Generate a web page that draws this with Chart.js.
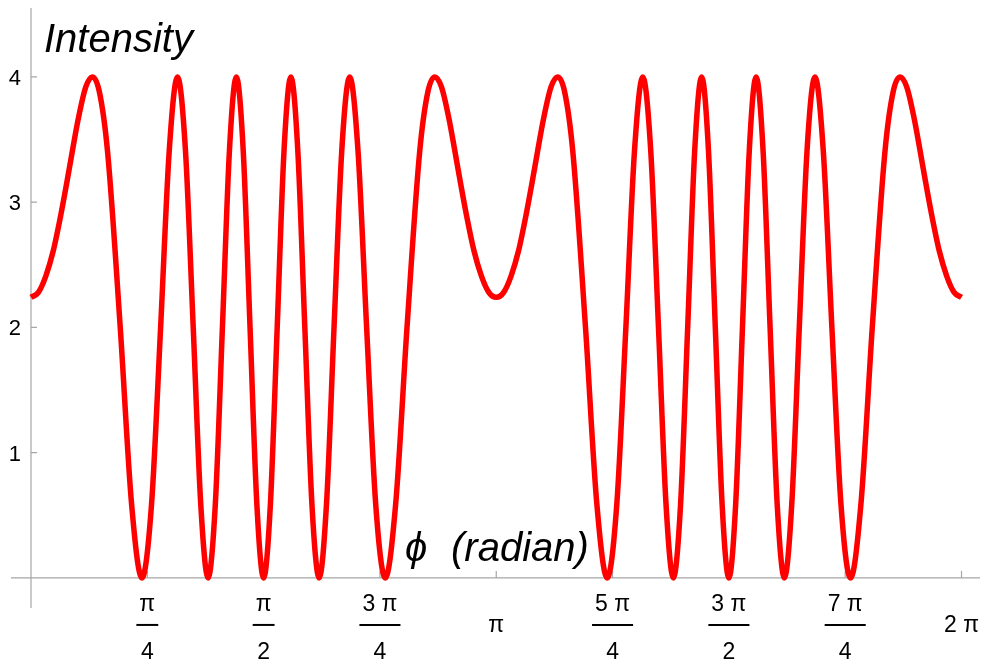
<!DOCTYPE html>
<html>
<head>
<meta charset="utf-8">
<script src="https://cdn.jsdelivr.net/npm/chart.js@4/dist/chart.umd.min.js"></script>
<style>
  html, body { margin: 0; padding: 0; background: #ffffff; }
  canvas { display: block; }
</style>
</head>
<body>
<canvas id="c" width="985" height="663"></canvas>
<script>
// phase angle (radian)
const phi = [
  0,      0.05,   0.1,    0.15,   0.2,    0.25,   0.2797, 0.32,   0.37,   0.4143,
  0.46,   0.5164, 0.6026, 0.6792, 0.7491, 0.8141, 0.8753, 0.9335, 0.9894, 1.0432,
  1.0954, 1.1462, 1.1959, 1.2447, 1.2926, 1.3399, 1.3867, 1.4331, 1.4791, 1.5250,
  1.5708, 1.6166, 1.6625, 1.7085, 1.7549, 1.8017, 1.8490, 1.8969, 1.9457, 1.9954,
  2.0462, 2.0984, 2.1522, 2.2081, 2.2663, 2.3275, 2.3925, 2.4624, 2.5390, 2.6252,
  2.6816, 2.7273, 2.7716, 2.8216, 2.8619, 2.8916, 2.9416, 2.9916, 3.0416, 3.0916,
  3.1416, 3.1916, 3.2416, 3.2916, 3.3416, 3.3916, 3.4213, 3.4616, 3.5116, 3.5559,
  3.6016, 3.6580, 3.7442, 3.8208, 3.8907, 3.9557, 4.0169, 4.0751, 4.1310, 4.1848,
  4.2370, 4.2878, 4.3375, 4.3863, 4.4342, 4.4815, 4.5283, 4.5747, 4.6207, 4.6666,
  4.7124, 4.7582, 4.8041, 4.8501, 4.8965, 4.9433, 4.9906, 5.0385, 5.0873, 5.1370,
  5.1878, 5.2400, 5.2938, 5.3497, 5.4079, 5.4691, 5.5341, 5.6040, 5.6806, 5.7668,
  5.8232, 5.8689, 5.9132, 5.9632, 6.0035, 6.0332, 6.0832, 6.1332, 6.1832, 6.2332,
  6.2832
];
// intensity
const intensity = [
  2.24, 2.28, 2.41, 2.61, 2.89, 3.21, 3.41, 3.67, 3.92, 4.00,
  3.89, 3.41, 2.00, 0.59, 0.00, 0.59, 2.00, 3.41, 4.00, 3.41,
  2.00, 0.59, 0.00, 0.59, 2.00, 3.41, 4.00, 3.41, 2.00, 0.59,
  0.00, 0.59, 2.00, 3.41, 4.00, 3.41, 2.00, 0.59, 0.00, 0.59,
  2.00, 3.41, 4.00, 3.41, 2.00, 0.59, 0.00, 0.59, 2.00, 3.41,
  3.89, 4.00, 3.92, 3.67, 3.41, 3.21, 2.89, 2.61, 2.41, 2.28,
  2.24, 2.28, 2.41, 2.61, 2.89, 3.21, 3.41, 3.67, 3.92, 4.00,
  3.89, 3.41, 2.00, 0.59, 0.00, 0.59, 2.00, 3.41, 4.00, 3.41,
  2.00, 0.59, 0.00, 0.59, 2.00, 3.41, 4.00, 3.41, 2.00, 0.59,
  0.00, 0.59, 2.00, 3.41, 4.00, 3.41, 2.00, 0.59, 0.00, 0.59,
  2.00, 3.41, 4.00, 3.41, 2.00, 0.59, 0.00, 0.59, 2.00, 3.41,
  3.89, 4.00, 3.92, 3.67, 3.41, 3.21, 2.89, 2.61, 2.41, 2.28,
  2.24
];
// axis ticks
const xTicks = [Math.PI/4, Math.PI/2, 3*Math.PI/4, Math.PI, 5*Math.PI/4, 3*Math.PI/2, 7*Math.PI/4, 2*Math.PI];
const xTickLabels = [['π','4'], ['π','2'], ['3 π','4'], ['π'], ['5 π','4'], ['3 π','2'], ['7 π','4'], ['2 π']];
const yTicks = [1, 2, 3, 4];
const yTickLabels = ['1', '2', '3', '4'];
const xTitle = 'ϕ (radian)';
const yTitle = 'Intensity';

const FONT = '"Liberation Sans", Arial, "DejaVu Sans", sans-serif';
const AXIS_COLOR = '#a6a6a6';

const mmaAxes = {
  id: 'mmaAxes',
  beforeDatasetsDraw(chart) {
    const { ctx, scales: { x, y } } = chart;
    const x0 = x.getPixelForValue(0);
    const y0 = y.getPixelForValue(0);
    ctx.save();
    ctx.strokeStyle = AXIS_COLOR;
    ctx.lineWidth = 1.2;
    ctx.beginPath();
    ctx.moveTo(x.left, y0); ctx.lineTo(x.right, y0);
    ctx.moveTo(x0, y.top); ctx.lineTo(x0, y.bottom);
    xTicks.forEach(v => {
      const px = x.getPixelForValue(v);
      ctx.moveTo(px, y0); ctx.lineTo(px, y0 - 7);
    });
    yTicks.forEach(v => {
      const py = y.getPixelForValue(v);
      ctx.moveTo(x0, py); ctx.lineTo(x0 + 6, py);
    });
    ctx.stroke();
    ctx.restore();
  },
  afterDraw(chart) {
    const { ctx, scales: { x, y } } = chart;
    const x0 = x.getPixelForValue(0);
    const y0 = y.getPixelForValue(0);
    ctx.save();
    ctx.fillStyle = '#000000';
    ctx.strokeStyle = '#000000';
    // y tick labels
    ctx.font = '22px ' + FONT;
    ctx.textAlign = 'right';
    ctx.textBaseline = 'alphabetic';
    yTicks.forEach((v, i) => {
      const py = y.getPixelForValue(v);
      ctx.fillText(yTickLabels[i], x0 - 10, py + 8);
    });
    // x tick labels (fractions)
    ctx.font = '23px ' + FONT;
    ctx.textAlign = 'center';
    xTicks.forEach((v, i) => {
      const px = x.getPixelForValue(v);
      const lab = xTickLabels[i];
      const barY = y0 + 47;
      if (lab.length === 2) {
        const w = Math.max(ctx.measureText(lab[0]).width, ctx.measureText(lab[1]).width);
        ctx.fillText(lab[0], px, barY - 14);
        ctx.fillText(lab[1], px, barY + 34);
        ctx.lineWidth = 2;
        ctx.beginPath();
        ctx.moveTo(px - w / 2 - 3, barY);
        ctx.lineTo(px + w / 2 + 3, barY);
        ctx.stroke();
      } else {
        ctx.fillText(lab[0], px, barY + 7);
      }
    });
    // axis titles
    ctx.textAlign = 'left';
    ctx.font = 'italic 40px ' + FONT;
    ctx.fillText(yTitle, x0 + 13, y.top + 44);
    const sp = xTitle.indexOf(' ');
    ctx.fillText(xTitle.slice(0, sp), 405, y0 - 17);
    ctx.fillText(xTitle.slice(sp + 1), 451, y0 - 17);
    ctx.restore();
  }
};

new Chart(document.getElementById('c'), {
  type: 'line',
  data: {
    datasets: [{
      data: phi.map((p, i) => ({ x: p, y: intensity[i] })),
      borderColor: '#ff0000',
      borderWidth: 5.5,
      pointRadius: 0,
      fill: false,
      cubicInterpolationMode: 'monotone',
      borderJoinStyle: 'round',
      borderCapStyle: 'butt'
    }]
  },
  options: {
    responsive: false,
    animation: false,
    devicePixelRatio: 1,
    layout: { padding: { left: 11, right: 5, top: 8, bottom: 55 } },
    plugins: { legend: { display: false }, tooltip: { enabled: false } },
    scales: {
      x: { type: 'linear', min: -0.135, max: 6.408, display: false },
      y: { type: 'linear', min: -0.24, max: 4.55, display: false }
    }
  },
  plugins: [mmaAxes]
});
</script>
</body>
</html>
